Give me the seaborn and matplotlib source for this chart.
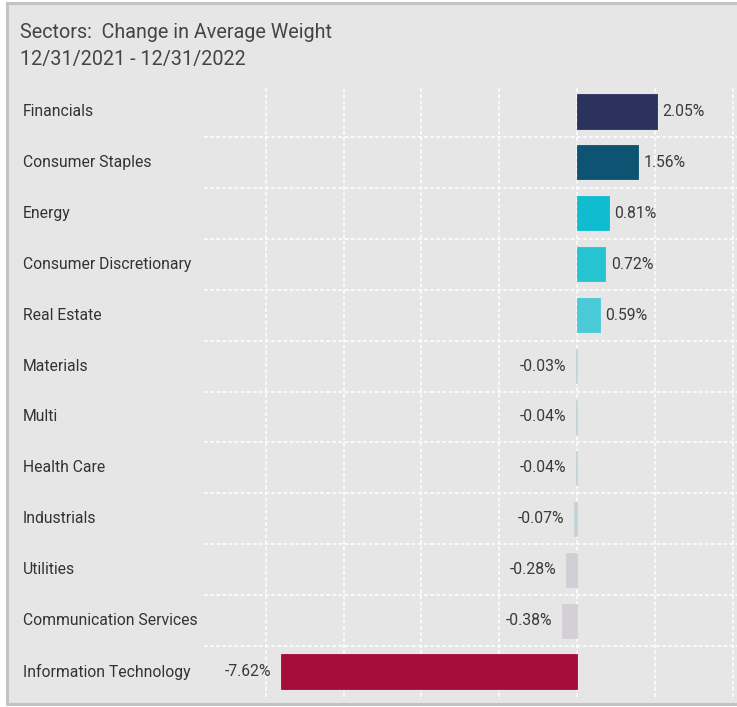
import matplotlib
matplotlib.use("Agg")
import matplotlib.pyplot as plt
import matplotlib.transforms as mtransforms
from matplotlib.patches import Rectangle
import seaborn as sns

# data
sectors = ["Financials", "Consumer Staples", "Energy", "Consumer Discretionary",
           "Real Estate", "Materials", "Multi", "Health Care", "Industrials",
           "Utilities", "Communication Services", "Information Technology"]
change = [2.05, 1.56, 0.81, 0.72, 0.59, -0.03, -0.04, -0.04, -0.07, -0.28, -0.38, -7.62]
colors = ["#2b325e", "#0d5473", "#10bdd0", "#26c3d3", "#4ac9d6", "#c4d2d8",
          "#c4d2d8", "#c4d2d8", "#c4d2d8", "#cfd0d6", "#d3cfd6", "#a60c38"]
grid_x = [-8, -6, -4, -2, 0, 2, 4]

sns.set_theme(style="white")
plt.rcParams["font.family"] = ["Roboto", "DejaVu Sans"]

W, H = 737, 707
fig = plt.figure(figsize=(W / 100, H / 100), dpi=100, facecolor="white")

# panel with grey border
fig.patches.append(Rectangle((7 / W, 3 / H), 740 / W, 701 / H, transform=fig.transFigure,
                             facecolor="#e6e6e6", edgecolor="#c3c3c3", linewidth=2.2, zorder=-5))

ax = fig.add_axes([204 / W, 10 / H, 533 / W, 611 / H])
ax.set_zorder(2)
ax.set_facecolor("none")

sns.barplot(x=change, y=sectors, hue=sectors, palette=colors, legend=False,
            orient="h", width=0.67, ax=ax, saturation=1, zorder=3, linewidth=0)
# give the tiny bars a visible sliver like the original
for bar, c in zip(ax.patches, colors):
    bar.set_edgecolor(c)
    bar.set_linewidth(0.6)

ax.set_xlim(-9.59, 4.11)
ax.set_ylim(11.5, -0.5)

for gx in grid_x:
    ax.axvline(gx, color="white", lw=1.1, ls=(0, (2.5, 1.5)), zorder=1)
for i in range(len(sectors) - 1):
    ax.axhline(i + 0.5, color="white", lw=1.1, ls=(0, (2.5, 1.5)), zorder=1)

for s in ax.spines.values():
    s.set_visible(False)
ax.set_xticks([])
ax.set_yticks([])
ax.set_xlabel("")
ax.set_ylabel("")

# value labels
for i, v in enumerate(change):
    if v >= 0:
        ax.annotate(f"{v:.2f}%", (v, i), xytext=(4, 0), textcoords="offset points",
                    ha="left", va="center", fontsize=11.3, color="#3a3a3a")
    else:
        ax.annotate(f"{v:.2f}%", (v, i), xytext=(-7, 0), textcoords="offset points",
                    ha="right", va="center", fontsize=11.3, color="#3a3a3a")

# category labels
trans = mtransforms.blended_transform_factory(fig.transFigure, ax.transData)
for i, name in enumerate(sectors):
    ax.text(23 / W, i, name, transform=trans, ha="left", va="center",
            fontsize=11.3, color="#333333")

fig.text(20 / W, 1 - 32 / H, "Sectors:  Change in Average Weight", ha="left", va="center",
         fontsize=14.2, color="#444444")
fig.text(20 / W, 1 - 59 / H, "12/31/2021 - 12/31/2022", ha="left", va="center",
         fontsize=14.2, color="#444444")

fig.savefig("out.png", dpi=100, facecolor="white")
